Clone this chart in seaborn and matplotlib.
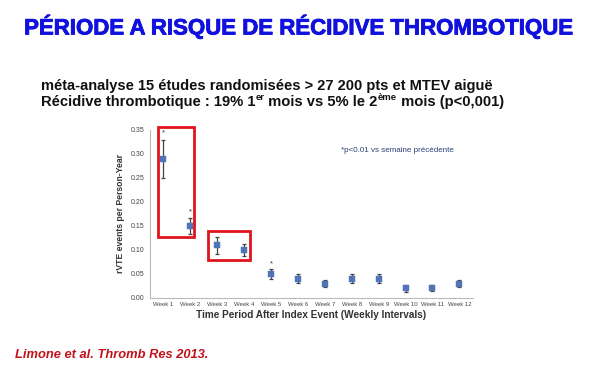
import numpy as np
import matplotlib
matplotlib.use('Agg')
import matplotlib.pyplot as plt
import matplotlib.patches as patches
import matplotlib.patheffects as pe
import pandas as pd
import seaborn as sns

# Data
weeks = ['Week 1', 'Week 2', 'Week 3', 'Week 4', 'Week 5', 'Week 6',
         'Week 7', 'Week 8', 'Week 9', 'Week 10', 'Week 11', 'Week 12']
rate = [0.29, 0.15, 0.11, 0.10, 0.05, 0.04, 0.03, 0.04, 0.04, 0.02, 0.02, 0.03]
low = [0.25, 0.133, 0.092, 0.087, 0.040, 0.031, 0.022, 0.032, 0.032, 0.013, 0.014, 0.022]
high = [0.33, 0.167, 0.128, 0.113, 0.060, 0.049, 0.038, 0.049, 0.049, 0.028, 0.027, 0.038]
star_weeks = ['Week 1', 'Week 2', 'Week 5']
star_y = [0.344, 0.179, 0.072]

df = pd.DataFrame({'week': weeks, 'rate': rate, 'low': low, 'high': high})

sns.set_style('white')
plt.rcParams['font.family'] = ['Liberation Sans', 'DejaVu Sans']

fig = plt.figure(figsize=(6, 3.8), dpi=100)
ax = fig.add_axes([0.25, 0.2158, 0.538, 0.4421])

pos = np.arange(len(weeks))
ax.errorbar(pos, df['rate'], yerr=[df['rate'] - df['low'], df['high'] - df['rate']],
            fmt='none', ecolor='#444444', elinewidth=0.9, capsize=1.6, capthick=0.9, zorder=2)
sns.scatterplot(data=df, x='week', y='rate', marker='s', s=16, color='#4f75b8',
                edgecolor='#4f75b8', ax=ax, zorder=3, legend=False)

for w, y in zip(star_weeks, star_y):
    ax.text(weeks.index(w), y, '*', ha='center', va='center', fontsize=5.5, color='#333333')

ax.set_xlim(-0.5, 11.5)
ax.set_ylim(0, 0.35)
ax.set_yticks(np.arange(0, 0.351, 0.05))
ax.set_yticklabels([f'{v:.2f}' for v in np.arange(0, 0.351, 0.05)], fontsize=5, color='#444444')
ax.set_xticks(pos)
ax.set_xticklabels(weeks, fontsize=4.3, color='#444444')
ax.set_xticks(np.arange(-0.5, 12, 1), minor=True)
ax.tick_params(axis='x', which='major', length=0, pad=3)
ax.tick_params(axis='x', which='minor', length=2, color='#bbbbbb')
ax.tick_params(axis='y', length=2, color='#bbbbbb', pad=2)
for s in ['top', 'right']:
    ax.spines[s].set_visible(False)
for s in ['left', 'bottom']:
    ax.spines[s].set_color('#bbbbbb')
    ax.spines[s].set_linewidth(0.8)

ax.set_xlabel('Time Period After Index Event (Weekly Intervals)', fontsize=7.2,
              fontweight='bold', color='#333333', labelpad=2)
ax.set_ylabel('rVTE events per Person-Year', fontsize=6.2, fontweight='bold',
              color='#333333', labelpad=4)

ax.text(0.765, 0.88, '*p<0.01 vs semaine précédente', transform=ax.transAxes,
        fontsize=5.8, color='#2b3f7a', ha='center', va='center')

# red highlight boxes (data coordinates)
ax.add_patch(patches.Rectangle((-0.22, 0.127), 1.37, 0.229, fill=False,
                               edgecolor='#e0141e', linewidth=2, clip_on=False, zorder=4))
ax.add_patch(patches.Rectangle((1.67, 0.079), 1.55, 0.061, fill=False,
                               edgecolor='#e0141e', linewidth=2, clip_on=False, zorder=4))

fig.text(0.498, 0.929, 'PÉRIODE A RISQUE DE RÉCIDIVE THROMBOTIQUE', ha='center', va='center',
         fontsize=16, fontweight='bold', color='#1010e0',
         path_effects=[pe.withStroke(linewidth=0.6, foreground='#1010d0')])
fig.text(0.068, 0.774, 'méta-analyse 15 études randomisées > 27 200 pts et MTEV aiguë',
         ha='left', va='center', fontsize=10.5, fontweight='bold', color='#111111')

# second line built piece by piece so the superscripts sit above the baseline
renderer = fig.canvas.get_renderer()
pieces = [('Récidive thrombotique : 19% 1', False), ('er', True),
          (' mois vs 5% le 2', False), ('ème', True), (' mois (p<0,001)', False)]
x = 0.068
for txt, sup in pieces:
    if sup:
        t = fig.text(x, 0.744, txt, ha='left', va='center', fontsize=6.8,
                     fontweight='bold', color='#111111')
    else:
        t = fig.text(x, 0.732, txt, ha='left', va='center', fontsize=10.6,
                     fontweight='bold', color='#111111')
    bb = t.get_window_extent(renderer=renderer)
    x += bb.width / fig.bbox.width

fig.text(0.025, 0.065, 'Limone et al. Thromb Res 2013.', ha='left', va='center',
         fontsize=9.3, fontweight='bold', style='italic', color='#c0121a')

fig.savefig('out.png', dpi=100)
